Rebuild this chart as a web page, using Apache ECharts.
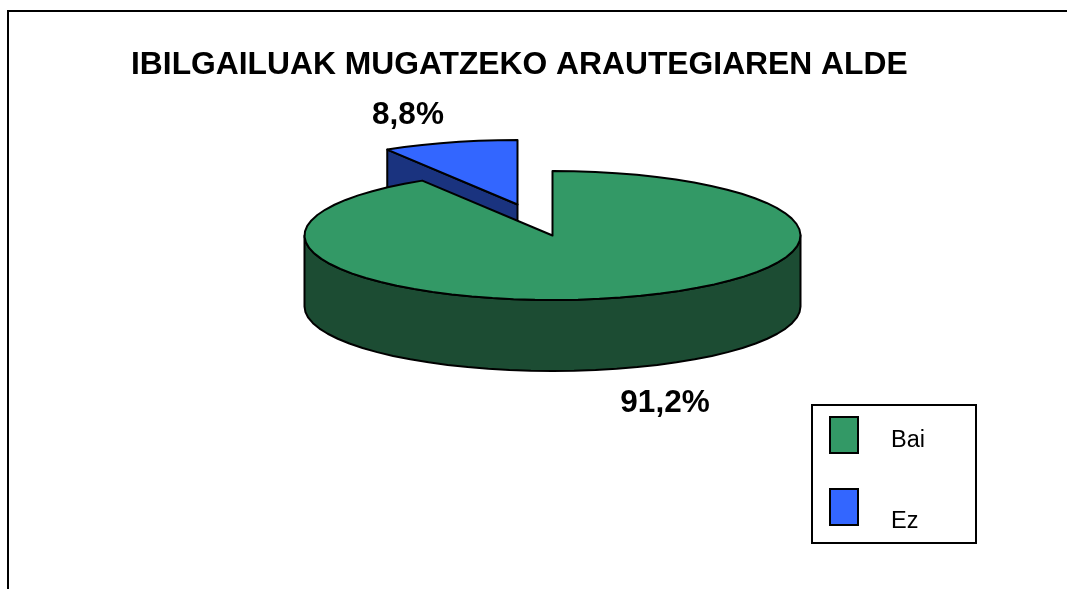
<!DOCTYPE html>
<html>
<head>
<meta charset="utf-8">
<style>html,body{margin:0;padding:0;background:#fff}#c{width:1067px;height:589px}</style>
<script src="https://cdn.jsdelivr.net/npm/echarts@6/dist/echarts.min.js"></script>
</head>
<body>
<div id="c"></div>
<script>
const titleText = 'IBILGAILUAK MUGATZEKO ARAUTEGIAREN ALDE';
const categories = ['Bai', 'Ez'];
const seriesValues = [91.2, 8.8];

const FONT = '"Liberation Sans", Arial, sans-serif';
const topColors = ['#339966', '#3366ff'];
const sideColors = ['#1c4c33', '#1a337f'];
const CX = 552.5, CY = 235.5, RX = 248, RY = 64.5, DEPTH = 71;
const explode = [[0, 0], [-35, -31]];
const labelPos = [[665, 403], [408, 115]];
const legendRow = [{sy: 417, ty: 441}, {sy: 489, ty: 522}];
const total = seriesValues.reduce((a, b) => a + b, 0);

function pt(t, dx, dy) { // t: fraction of the circle, clockwise from the top
  const a = t * 2 * Math.PI;
  return [CX + dx + RX * Math.sin(a), CY + dy - RY * Math.cos(a)];
}
function arc(t0, t1, dx, dy) {
  const n = Math.max(2, Math.ceil((t1 - t0) * 72)), out = [];
  for (let i = 0; i <= n; i++) out.push(pt(t0 + (t1 - t0) * i / n, dx, dy));
  return out;
}
const line = {stroke: '#000', lineWidth: 2, lineJoin: 'round'};

function renderItem(params, api) {
  const i = params.dataIndex;
  let before = 0;
  for (let k = 0; k < i; k++) before += seriesValues[k];
  const t0 = before / total, t1 = (before + api.value(0)) / total;
  const [dx, dy] = explode[i];
  const apex = [CX + dx, CY + dy];
  const base = i === 0 ? 10 : 0; // the exploded slice sits behind the big one
  const kids = [];
  // outer wall: only the front half (t between .25 and .75) can be seen
  const f0 = Math.max(t0, .25), f1 = Math.min(t1, .75);
  if (f1 > f0) {
    const upper = arc(f0, f1, dx, dy);
    const lower = arc(f0, f1, dx, dy + DEPTH).reverse();
    kids.push({type: 'polygon', z2: base + 1, shape: {points: upper.concat(lower)},
      style: Object.assign({fill: sideColors[i]}, line)});
  }
  // cut face at the start of the slice is visible when it faces the viewer
  if (t0 > .5) {
    const p = pt(t0, dx, dy);
    kids.push({type: 'polygon', z2: base + 1,
      shape: {points: [apex, p, [p[0], p[1] + DEPTH], [apex[0], apex[1] + DEPTH]]},
      style: Object.assign({fill: sideColors[i]}, line)});
  }
  // top face
  kids.push({type: 'polygon', z2: base + 2,
    shape: {points: [apex].concat(arc(t0, t1, dx, dy))},
    style: Object.assign({fill: topColors[i]}, line)});
  // value label
  kids.push({type: 'text', z2: 30, x: labelPos[i][0], y: labelPos[i][1],
    style: {text: api.value(0).toFixed(1).replace('.', ',') + '%', fill: '#000',
      font: 'bold 31.5px ' + FONT, align: 'center', verticalAlign: 'middle'}});
  return {type: 'group', children: kids};
}

const legendGraphics = [{type: 'rect', shape: {x: 812, y: 405, width: 164, height: 138},
  style: {fill: '#fff', stroke: '#000', lineWidth: 2}}];
categories.forEach((name, i) => {
  legendGraphics.push({type: 'rect', shape: {x: 830, y: legendRow[i].sy, width: 28, height: 36},
    style: {fill: topColors[i], stroke: '#000', lineWidth: 2}});
  legendGraphics.push({type: 'text', x: 891, y: legendRow[i].ty,
    style: {text: name, fill: '#000', font: '23.5px ' + FONT, verticalAlign: 'middle'}});
});

const chart = echarts.init(document.getElementById('c'), null, {renderer: 'canvas'});
chart.setOption({
  animation: false,
  backgroundColor: '#fff',
  title: {text: titleText, left: 126, top: 44,
    textStyle: {color: '#000', fontFamily: FONT, fontWeight: 'bold', fontSize: 31.8}},
  graphic: [
    {type: 'polyline', shape: {points: [[1067, 11], [8, 11], [8, 589]]},
      style: {fill: null, stroke: '#000', lineWidth: 2}},
    ...legendGraphics
  ],
  series: [{
    type: 'custom',
    coordinateSystem: 'none',
    clip: false,
    renderItem,
    data: categories.map((name, i) => ({name, value: [seriesValues[i]]}))
  }]
});
</script>
</body>
</html>
